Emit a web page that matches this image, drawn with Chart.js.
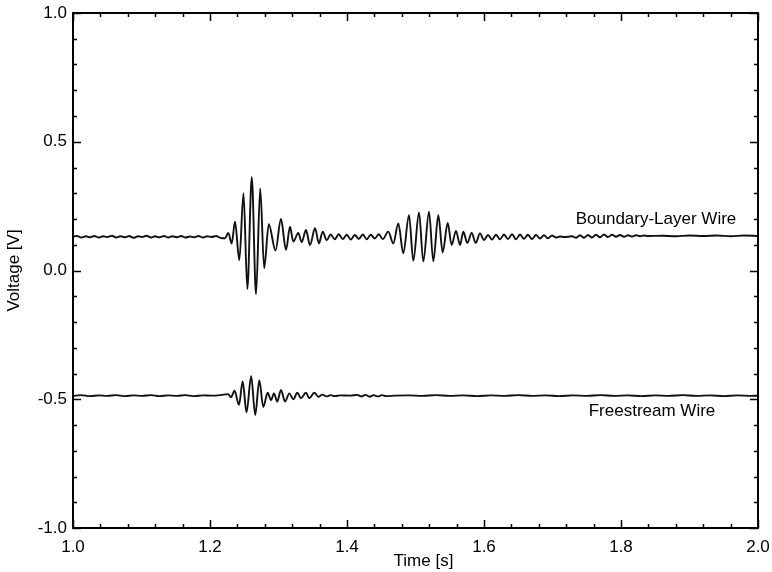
<!DOCTYPE html>
<html lang="en">
<head>
    <meta charset="UTF-8">
    <title>Hot-wire signals</title>
    <script src="https://cdn.jsdelivr.net/npm/chart.js"></script>
    <style>
        body {
            margin: 0;
            padding: 0;
            background: #fff;
        }

        #wrap {
            width: 772px;
            height: 572px;
        }
    </style>
</head>
<body>
    <div id="wrap">
        <canvas id="wireChart" width="772" height="572"></canvas>
    </div>

    <script>
        // Axis labels
        const xMajor = [1.0, 1.2, 1.4, 1.6, 1.8, 2.0];
        const yMajor = [-1.0, -0.5, 0.0, 0.5, 1.0];
        const seriesNames = ['Boundary-Layer Wire', 'Freestream Wire'];

        // Boundary-layer wire (time [s], voltage [V])
        const blTime = [
            1.000, 1.006, 1.012, 1.019, 1.025, 1.031, 1.038, 1.044,
            1.050, 1.057, 1.063, 1.069, 1.076, 1.082, 1.088, 1.095,
            1.101, 1.107, 1.114, 1.120, 1.126, 1.133, 1.139, 1.145,
            1.152, 1.158, 1.164, 1.171, 1.177, 1.183, 1.190, 1.196,
            1.202, 1.209, 1.215, 1.2219, 1.2267, 1.2317, 1.2365, 1.2428,
            1.2489, 1.2545, 1.2610, 1.2672, 1.2733, 1.2791, 1.2858, 1.2956,
            1.3036, 1.3109, 1.3168, 1.3216, 1.3289, 1.3339, 1.3401, 1.3460,
            1.3533, 1.3591, 1.3645, 1.3704, 1.3762, 1.3821, 1.3880, 1.3938,
            1.3996, 1.4055, 1.4113, 1.4172, 1.4230, 1.4288, 1.4347, 1.4405,
            1.4463, 1.4522, 1.4603, 1.4676, 1.4749, 1.4822, 1.4905, 1.4968,
            1.5051, 1.5114, 1.5197, 1.5260, 1.5333, 1.5397, 1.5470, 1.5528,
            1.5591, 1.5650, 1.5698, 1.5756, 1.5820, 1.5879, 1.5942, 1.6000,
            1.6058, 1.6117, 1.6175, 1.6234, 1.6292, 1.6350, 1.6409, 1.6467,
            1.6526, 1.6584, 1.6642, 1.6701, 1.6759, 1.6818, 1.6876, 1.6934,
            1.6993, 1.7051, 1.7110, 1.7168, 1.7226, 1.7285, 1.7343, 1.7402,
            1.7460, 1.7518, 1.7577, 1.7635, 1.7694, 1.7752, 1.7810, 1.7869,
            1.7927, 1.7986, 1.8044, 1.8102, 1.8161, 1.8219, 1.8278, 1.8336,
            1.8394, 1.860, 1.880, 1.900, 1.920, 1.940, 1.960, 1.980,
            2.000
        ];
        const blVolt = [
            0.131, 0.134, 0.128, 0.133, 0.129, 0.134, 0.128, 0.133,
            0.130, 0.135, 0.128, 0.133, 0.129, 0.134, 0.127, 0.133,
            0.130, 0.135, 0.128, 0.133, 0.129, 0.134, 0.128, 0.133,
            0.129, 0.134, 0.128, 0.132, 0.129, 0.134, 0.128, 0.133,
            0.130, 0.134, 0.127, 0.125, 0.146, 0.105, 0.190, 0.040,
            0.300, -0.072, 0.362, -0.092, 0.319, 0.009, 0.180, 0.078,
            0.200, 0.080, 0.170, 0.112, 0.146, 0.110, 0.157, 0.099,
            0.164, 0.105, 0.151, 0.118, 0.140, 0.121, 0.141, 0.122,
            0.139, 0.120, 0.138, 0.123, 0.140, 0.121, 0.139, 0.124,
            0.141, 0.122, 0.151, 0.105, 0.183, 0.067, 0.215, 0.038,
            0.225, 0.035, 0.228, 0.036, 0.215, 0.070, 0.185, 0.099,
            0.154, 0.099, 0.151, 0.107, 0.146, 0.107, 0.144, 0.118,
            0.138, 0.120, 0.139, 0.121, 0.140, 0.122, 0.141, 0.121,
            0.140, 0.123, 0.139, 0.122, 0.138, 0.124, 0.137, 0.125,
            0.136, 0.128, 0.132, 0.130, 0.131, 0.133, 0.127, 0.137,
            0.127, 0.138, 0.128, 0.139, 0.129, 0.140, 0.130, 0.139,
            0.131, 0.138, 0.131, 0.137, 0.132, 0.137, 0.133, 0.136,
            0.134, 0.135, 0.133, 0.136, 0.134, 0.136, 0.133, 0.136,
            0.134
        ];

        // Freestream wire
        const fsTime = [
            1.000, 1.012, 1.025, 1.038, 1.050, 1.063, 1.076, 1.088,
            1.101, 1.114, 1.126, 1.139, 1.152, 1.164, 1.177, 1.190,
            1.202, 1.215, 1.2263, 1.2307, 1.2358, 1.2423, 1.2477, 1.2533,
            1.2601, 1.2660, 1.2720, 1.2778, 1.2842, 1.2891, 1.2934, 1.2982,
            1.3036, 1.3095, 1.3158, 1.3216, 1.3274, 1.3328, 1.3401, 1.3450,
            1.3523, 1.3581, 1.3640, 1.3700, 1.3760, 1.3820, 1.3900, 1.4050,
            1.4150, 1.4210, 1.4270, 1.4330, 1.4390, 1.4450, 1.4510, 1.4570,
            1.4700, 1.4900, 1.5100, 1.5300, 1.5500, 1.5700, 1.5900, 1.6100,
            1.6300, 1.6500, 1.6700, 1.6900, 1.7100, 1.7300, 1.7500, 1.7700,
            1.7900, 1.8100, 1.8300, 1.8500, 1.8700, 1.8900, 1.9100, 1.9300,
            1.9500, 1.9700, 1.9900, 2.0000
        ];
        const fsVolt = [
            -0.487, -0.484, -0.488, -0.485, -0.487, -0.484, -0.488, -0.485,
            -0.487, -0.484, -0.488, -0.485, -0.487, -0.484, -0.488, -0.485,
            -0.486, -0.484, -0.480, -0.492, -0.467, -0.522, -0.431, -0.551,
            -0.410, -0.561, -0.426, -0.530, -0.475, -0.503, -0.477, -0.509,
            -0.464, -0.509, -0.477, -0.500, -0.475, -0.496, -0.475, -0.496,
            -0.475, -0.490, -0.482, -0.489, -0.484, -0.488, -0.485, -0.486,
            -0.483, -0.489, -0.483, -0.490, -0.484, -0.489, -0.484, -0.488,
            -0.486, -0.485, -0.487, -0.484, -0.487, -0.485, -0.488, -0.485,
            -0.487, -0.484, -0.487, -0.485, -0.488, -0.485, -0.487, -0.484,
            -0.487, -0.485, -0.488, -0.485, -0.487, -0.484, -0.487, -0.485,
            -0.488, -0.485, -0.487, -0.486
        ];

        const FONT = '"Liberation Sans", Arial, Helvetica, sans-serif';

        function toPoints(ts, vs) {
            return ts.map((t, i) => ({ x: t, y: vs[i] }));
        }

        function isMajor(v, list) {
            return list.some(m => Math.abs(m - v) < 1e-6);
        }

        // frame with inward ticks on all four sides, plus text labels
        const framePlugin = {
            id: 'frame',
            afterDraw(chart) {
                const { ctx, chartArea: a, scales } = chart;
                const xs = scales.x, ys = scales.y;
                ctx.save();
                ctx.strokeStyle = '#000';
                ctx.lineWidth = 2;
                ctx.strokeRect(a.left, a.top, a.right - a.left, a.bottom - a.top);

                ctx.lineWidth = 1.5;
                ctx.beginPath();
                xs.ticks.forEach(t => {
                    const px = Math.round(xs.getPixelForValue(t.value)) + 0.5;
                    const len = isMajor(t.value, xMajor) ? 8 : 4;
                    ctx.moveTo(px, a.bottom); ctx.lineTo(px, a.bottom - len);
                    ctx.moveTo(px, a.top); ctx.lineTo(px, a.top + len);
                });
                ys.ticks.forEach(t => {
                    const py = Math.round(ys.getPixelForValue(t.value)) + 0.5;
                    const len = isMajor(t.value, yMajor) ? 8 : 4;
                    ctx.moveTo(a.left, py); ctx.lineTo(a.left + len, py);
                    ctx.moveTo(a.right, py); ctx.lineTo(a.right - len, py);
                });
                ctx.stroke();

                ctx.fillStyle = '#000';
                ctx.font = '17px ' + FONT;
                ctx.textBaseline = 'middle';
                ctx.textAlign = 'center';
                ctx.fillText(seriesNames[0], 656, ys.getPixelForValue(0.2));
                ctx.fillText(seriesNames[1], 652, ys.getPixelForValue(-0.545));

                // axis titles
                ctx.fillText('Time [s]', (a.left + a.right) / 2 + 8, 561);
                ctx.translate(14, (a.top + a.bottom) / 2);
                ctx.rotate(-Math.PI / 2);
                ctx.fillText('Voltage [V]', 0, 0);
                ctx.restore();
            }
        };

        new Chart(document.getElementById('wireChart'), {
            type: 'line',
            data: {
                datasets: [{
                    label: seriesNames[0],
                    data: toPoints(blTime, blVolt),
                    borderColor: '#111',
                    borderWidth: 1.9,
                    pointRadius: 0,
                    cubicInterpolationMode: 'monotone'
                }, {
                    label: seriesNames[1],
                    data: toPoints(fsTime, fsVolt),
                    borderColor: '#111',
                    borderWidth: 1.9,
                    pointRadius: 0,
                    cubicInterpolationMode: 'monotone'
                }]
            },
            options: {
                responsive: false,
                animation: false,
                layout: {
                    padding: { top: 13, right: 14, left: 0, bottom: 0 }
                },
                plugins: {
                    legend: { display: false },
                    tooltip: { enabled: false }
                },
                scales: {
                    x: {
                        type: 'linear',
                        min: 1.0,
                        max: 2.0,
                        afterFit(s) {
                            s.height = 44;
                            s.paddingLeft = 0;
                            s.paddingRight = 0;
                        },
                        grid: { display: false, drawTicks: false },
                        border: { display: false },
                        ticks: {
                            stepSize: 0.04,
                            autoSkip: false,
                            maxRotation: 0,
                            padding: 9,
                            color: '#000',
                            font: { family: FONT, size: 17 },
                            callback: v => isMajor(v, xMajor) ? v.toFixed(1) : ''
                        }
                    },
                    y: {
                        min: -1.0,
                        max: 1.0,
                        afterFit(s) {
                            s.width = 73;
                            s.paddingTop = 0;
                            s.paddingBottom = 0;
                        },
                        grid: { display: false, drawTicks: false },
                        border: { display: false },
                        ticks: {
                            stepSize: 0.1,
                            autoSkip: false,
                            padding: 6,
                            color: '#000',
                            font: { family: FONT, size: 17 },
                            callback: v => isMajor(v, yMajor) ? (Math.abs(v) < 1e-9 ? 0 : v).toFixed(1) : ''
                        }
                    }
                }
            },
            plugins: [framePlugin]
        });
    </script>
</body>
</html>
